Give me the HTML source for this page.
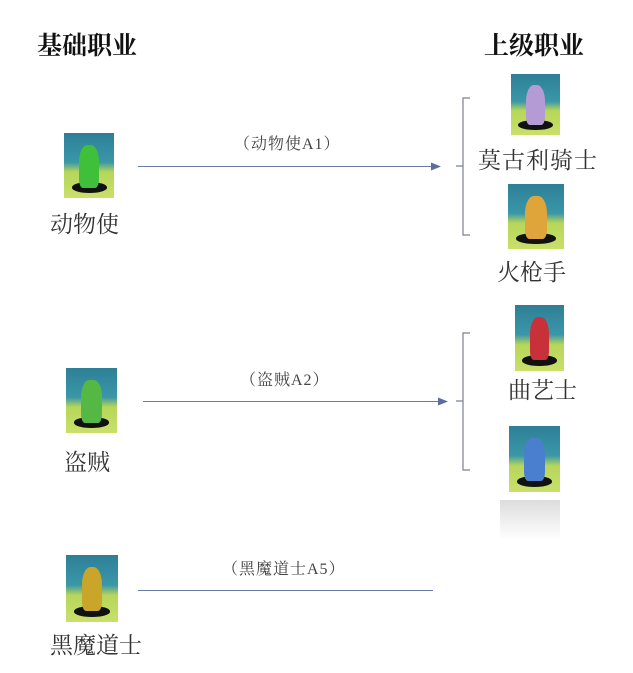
<!DOCTYPE html>
<html><head><meta charset="utf-8"><style>
body{margin:0;width:633px;height:673px;background:#fff;position:relative;overflow:hidden;font-family:"Liberation Serif","Noto Serif CJK SC",serif;color:#222}
.t{position:absolute;white-space:nowrap;line-height:1}
.h{font-family:"Liberation Serif","Noto Serif CJK SC",serif;font-weight:bold;font-size:25px;color:#111}
.l{font-size:23px;color:#333}
.s{font-size:16px;color:#444}
.sp{position:absolute;background:linear-gradient(180deg,#2e7f96 0%,#3a97a8 45%,#b6d65a 60%,#c9e06a 100%)}
.sp::before{content:"";position:absolute;left:15%;right:15%;bottom:8%;height:16%;background:#111;border-radius:50%}
.sp::after{content:"";position:absolute;left:30%;right:30%;top:18%;bottom:16%;border-radius:40% 40% 20% 20%;background:var(--c)}
</style></head><body>
<div class="t h" style="left:37px;top:34px">基础职业</div>
<div class="t h" style="left:484px;top:34px">上级职业</div>

<div class="sp" style="left:64px;top:133px;width:50px;height:65px;--c:#3fbf3a"></div>
<div class="t l" style="left:50px;top:213px">动物使</div>
<div class="sp" style="left:66px;top:368px;width:51px;height:65px;--c:#55b845"></div>
<div class="t l" style="left:64px;top:451px">盗贼</div>
<div class="sp" style="left:66px;top:555px;width:52px;height:67px;--c:#c9a52a"></div>
<div class="t l" style="left:50px;top:634px">黑魔道士</div>

<div class="sp" style="left:511px;top:74px;width:49px;height:61px;--c:#b49bd6"></div>
<div class="t l" style="left:478px;top:149px;letter-spacing:1px">莫古利骑士</div>
<div class="sp" style="left:508px;top:184px;width:56px;height:65px;--c:#e0a53a"></div>
<div class="t l" style="left:497px;top:261px">火枪手</div>
<div class="sp" style="left:515px;top:305px;width:49px;height:66px;--c:#c8303a"></div>
<div class="t l" style="left:508px;top:379px">曲艺士</div>
<div class="sp" style="left:509px;top:426px;width:51px;height:66px;--c:#4a7fd0"></div>
<div style="position:absolute;left:500px;top:500px;width:60px;height:40px;background:linear-gradient(180deg,#ddd,#fff)"></div>

<svg width="633" height="673" style="position:absolute;left:0;top:0">
<defs><marker id="a" markerWidth="10" markerHeight="8" refX="9" refY="4" orient="auto" markerUnits="userSpaceOnUse"><path d="M0,0L10,4L0,8z" fill="#5a6fa0"/></marker></defs>
<g stroke="#6a7ba8" stroke-width="1" fill="none">
<line x1="138" y1="166.5" x2="440" y2="166.5" marker-end="url(#a)"/>
<line x1="143" y1="401.5" x2="447" y2="401.5" marker-end="url(#a)"/>
<line x1="138" y1="590.5" x2="433" y2="590.5"/>
</g>
<g stroke="#7a8090" stroke-width="1.2" fill="none">
<path d="M470,98H463V166H456M463,166V235H470"/>
<path d="M470,333H463V401H456M463,401V470H470"/>
</g>
</svg>
<div class="t s" style="left:234px;top:137px;letter-spacing:1px">（动物使A1）</div>
<div class="t s" style="left:240px;top:373px;letter-spacing:1px">（盗贼A2）</div>
<div class="t s" style="left:222px;top:562px;letter-spacing:1px">（黑魔道士A5）</div>
</body></html>
